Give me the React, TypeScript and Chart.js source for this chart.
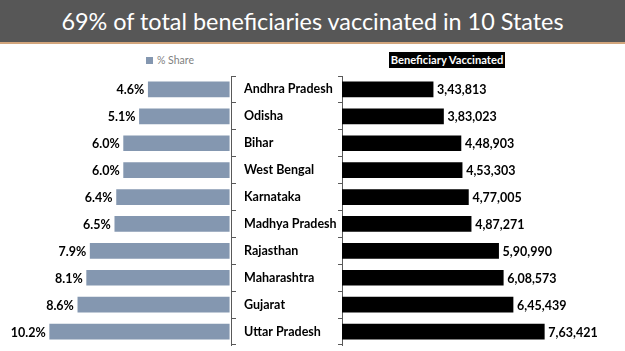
import { useEffect, useRef } from "react";
import { Chart, registerables } from "chart.js";

Chart.register(...registerables);

const titleText = "69% of total beneficiaries vaccinated in 10 States";
const shareLegend = "% Share";
const vaccinatedLegend = "Beneficiary Vaccinated";

const states = [
  "Andhra Pradesh",
  "Odisha",
  "Bihar",
  "West Bengal",
  "Karnataka",
  "Madhya Pradesh",
  "Rajasthan",
  "Maharashtra",
  "Gujarat",
  "Uttar Pradesh",
];
const sharePct = [4.6, 5.1, 6.0, 6.0, 6.4, 6.5, 7.9, 8.1, 8.6, 10.2];
const vaccinated = [343813, 383023, 448903, 453303, 477005, 487271, 590990, 608573, 645439, 763421];
const shareLabels = ["4.6%", "5.1%", "6.0%", "6.0%", "6.4%", "6.5%", "7.9%", "8.1%", "8.6%", "10.2%"];
const vaccinatedLabels = [
  "3,43,813",
  "3,83,023",
  "4,48,903",
  "4,53,303",
  "4,77,005",
  "4,87,271",
  "5,90,990",
  "6,08,573",
  "6,45,439",
  "7,63,421",
];

const FONT = "Lato, 'Open Sans', sans-serif";

function valueLabelPlugin(texts: string[], side: "left" | "right") {
  return {
    id: "valueLabels_" + side,
    afterDatasetsDraw(chart: any) {
      const ctx = chart.ctx;
      const meta = chart.getDatasetMeta(0);
      ctx.save();
      ctx.font = `bold 12.5px ${FONT}`;
      ctx.fillStyle = "#000";
      ctx.textBaseline = "middle";
      meta.data.forEach((bar: any, i: number) => {
        const { x, y } = bar.getProps(["x", "y"], true);
        if (side === "left") {
          ctx.textAlign = "right";
          ctx.fillText(texts[i], x - 4, y + 1);
        } else {
          ctx.textAlign = "left";
          ctx.fillText(texts[i], x + 4, y + 1);
        }
      });
      ctx.restore();
    },
  };
}

export default function App() {
  const leftRef = useRef<HTMLCanvasElement>(null);
  const rightRef = useRef<HTMLCanvasElement>(null);

  useEffect(() => {
    document.body.style.margin = "0";
    const left = new Chart(leftRef.current!, {
      type: "bar",
      data: {
        labels: states,
        datasets: [
          {
            label: shareLegend,
            data: sharePct,
            backgroundColor: "#8497b0",
            barThickness: 15,
          },
        ],
      },
      options: {
        indexAxis: "y",
        animation: false,
        responsive: false,
        maintainAspectRatio: false,
        layout: { padding: { left: 18, top: 76, bottom: 6, right: 0 } },
        plugins: { legend: { display: false }, tooltip: { enabled: false } },
        scales: {
          x: { display: false, reverse: true, min: -0.1, max: 12 },
          y: {
            position: "right",
            afterFit: (scale: any) => {
              scale.width = 109;
              scale.paddingTop = 0;
              scale.paddingBottom = 0;
            },
            grid: { drawOnChartArea: false, drawTicks: true, tickLength: 5, color: "#595959" },
            border: { display: true, color: "#595959", width: 1 },
            ticks: {
              color: "#000",
              padding: 8,
              font: { family: FONT, size: 12.5, weight: "bold" },
            },
          },
        },
      },
      plugins: [valueLabelPlugin(shareLabels, "left")],
    });

    const right = new Chart(rightRef.current!, {
      type: "bar",
      data: {
        labels: states,
        datasets: [
          {
            label: vaccinatedLegend,
            data: vaccinated,
            backgroundColor: "#000",
            barThickness: 15,
          },
        ],
      },
      options: {
        indexAxis: "y",
        animation: false,
        responsive: false,
        maintainAspectRatio: false,
        layout: { padding: { left: 0, top: 76, bottom: 6, right: 18 } },
        plugins: { legend: { display: false }, tooltip: { enabled: false } },
        scales: {
          x: { display: false, min: 0, max: 1000000 },
          y: {
            position: "left",
            afterFit: (scale: any) => {
              scale.width = 12;
              scale.paddingTop = 0;
              scale.paddingBottom = 0;
            },
            grid: { drawOnChartArea: false, drawTicks: true, tickLength: 4, color: "#595959" },
            border: { display: true, color: "#595959", width: 1 },
            ticks: { display: false },
          },
        },
      },
      plugins: [valueLabelPlugin(vaccinatedLabels, "right")],
    });

    return () => {
      left.destroy();
      right.destroy();
    };
  }, []);

  return (
    <div style={{ position: "fixed", left: 0, top: 0, width: 625, height: 351, background: "#fff", overflow: "hidden" }}>
      <div
        style={{
          position: "absolute",
          left: 0,
          top: 0,
          width: 625,
          height: 42,
          background: "#575757",
          borderBottom: "2px solid #d2a57c",
          color: "#fff",
          fontFamily: FONT,
          fontSize: 23.4,
          lineHeight: "42px",
          textAlign: "center",
          whiteSpace: "nowrap",
        }}
      >
        {titleText}
      </div>
      <div
        style={{
          position: "absolute",
          left: 146,
          top: 54,
          fontFamily: FONT,
          fontSize: 10.5,
          color: "#7f7f7f",
          display: "flex",
          alignItems: "center",
          whiteSpace: "nowrap",
        }}
      >
        <span style={{ display: "inline-block", width: 7, height: 7, background: "#8497b0", marginRight: 4 }} />
        {shareLegend}
      </div>
      <div
        style={{
          position: "absolute",
          left: 389,
          top: 52,
          width: 116,
          height: 16,
          background: "#000",
          color: "#fff",
          fontFamily: FONT,
          fontWeight: "bold",
          fontSize: 11.2,
          lineHeight: "16px",
          textAlign: "center",
          whiteSpace: "nowrap",
        }}
      >
        {vaccinatedLegend}
      </div>
      <canvas ref={leftRef} width={340} height={351} style={{ position: "absolute", left: 0, top: 0 }} />
      <canvas ref={rightRef} width={295} height={351} style={{ position: "absolute", left: 330, top: 0 }} />
    </div>
  );
}
